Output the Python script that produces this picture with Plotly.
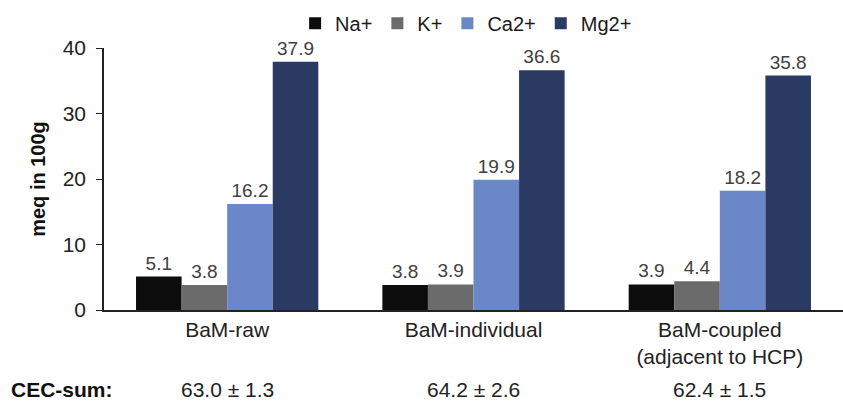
import plotly.graph_objects as go

categories = ["BaM-raw", "BaM-individual", "BaM-coupled<br>(adjacent to HCP)"]
ions = ["Na+", "K+", "Ca2+", "Mg2+"]
na = [5.1, 3.8, 3.9]
k = [3.8, 3.9, 4.4]
ca = [16.2, 19.9, 18.2]
mg = [37.9, 36.6, 35.8]
cec_sum = ["63.0 ± 1.3", "64.2 ± 2.6", "62.4 ± 1.5"]
y_ticks = [0, 10, 20, 30, 40]

colors = ["#0c0c0c", "#6b6b6b", "#6a88c8", "#2b3a62"]
font_family = "Liberation Sans, Arial, sans-serif"

fig = go.Figure()
for name, vals, col in zip(ions, [na, k, ca, mg], colors):
    fig.add_trace(go.Bar(
        x=categories, y=vals, name=name,
        marker=dict(color=col, line=dict(width=0)),
        text=[f"{v:.1f}" for v in vals], textposition="outside",
        textfont=dict(size=19, color="#404040", family=font_family),
        cliponaxis=False,
    ))

fig.update_layout(
    width=843, height=402,
    margin=dict(l=104, r=0, t=48, b=92),
    paper_bgcolor="white", plot_bgcolor="white",
    barmode="group", bargap=0.26, bargroupgap=0,
    font=dict(family=font_family, color="#1a1a1a"),
    showlegend=True,
    legend=dict(orientation="h", x=0.49, xanchor="center", y=1.02, yanchor="bottom",
                font=dict(size=20, color="#1a1a1a"), itemwidth=30,
                traceorder="normal", bgcolor="rgba(0,0,0,0)"),
    xaxis=dict(showline=True, linecolor="#222", linewidth=1.5, ticks="",
               tickfont=dict(size=21, color="#222"), showgrid=False,
               zeroline=False),
    yaxis=dict(range=[0, 40], tickvals=y_ticks, showline=True, linecolor="#222",
               linewidth=1.5, ticks="outside", ticklen=6, tickcolor="#222",
               ticklabelstandoff=6,
               tickfont=dict(size=21, color="#222"), showgrid=False, zeroline=False,
               title=dict(text="<b>meq in 100g</b>", font=dict(size=20, color="#111"),
                          standoff=12)),
)

fig.add_annotation(text="<b>CEC-sum:</b>", xref="paper", yref="paper",
                   x=-0.128, y=0, yshift=-79, xanchor="left", yanchor="middle",
                   showarrow=False, font=dict(size=21, color="#111"))
for cat, s in zip(categories, cec_sum):
    fig.add_annotation(text=s, xref="x", yref="paper", x=cat, y=0, yshift=-79,
                       yanchor="middle", showarrow=False,
                       font=dict(size=21, color="#222"))

fig.write_html("out.html")
